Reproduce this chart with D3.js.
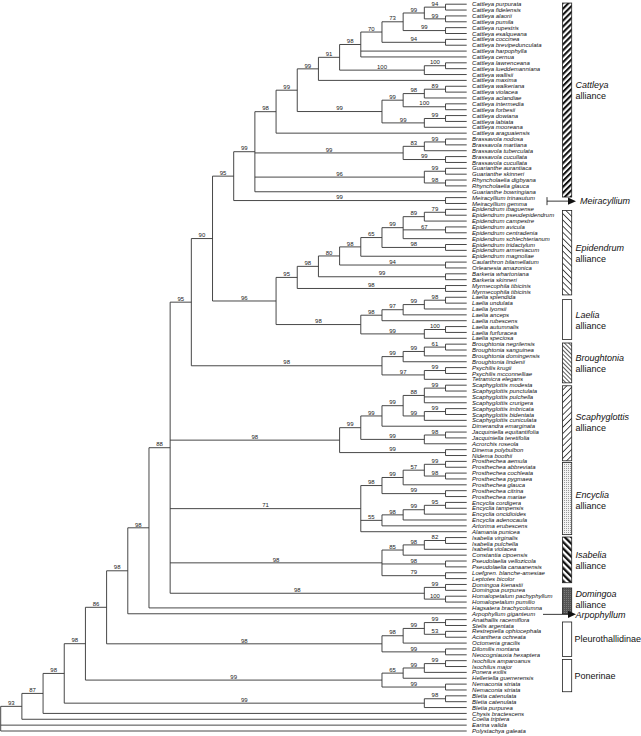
<!DOCTYPE html>
<html><head><meta charset="utf-8">
<script src="https://cdn.jsdelivr.net/npm/d3@7/dist/d3.min.js"></script>
<style>
html,body{margin:0;padding:0;background:#fff;}
svg{display:block;}
text{font-family:"Liberation Sans",Arial,Helvetica,sans-serif;}
</style></head>
<body>
<svg id="chart" width="641" height="736"></svg>
<script>
// ---------------- DATA ----------------
const taxa = [
"Cattleya purpurata","Cattleya fidelensis","Cattleya alaorii","Cattleya pumila","Cattleya rupestris",
"Cattleya esalqueana","Cattleya coccinea","Cattleya brevipedunculata","Cattleya harpophylla","Cattleya cernua",
"Cattleya lawrenceana","Cattleya lueddemanniana","Cattleya wallisii","Cattleya maxima","Cattleya walkeriana",
"Cattleya violacea","Cattleya aclandiae","Cattleya intermedia","Cattleya forbesii","Cattleya dowiana",
"Cattleya labiata","Cattleya mooreana","Cattleya araguaiensis","Brassavola nodosa","Brassavola martiana",
"Brassavola tuberculata","Brassavola cucullata","Brassavola cucullata","Guarianthe aurantiaca","Guarianthe skinneri",
"Rhyncholaelia digbyana","Rhyncholaelia glauca","Guarianthe bowringiana","Meiracyllium trinasutum","Meiracyllium gemma",
"Epidendrum ibaguense","Epidendrum pseudepidendrum","Epidendrum campestre","Epidendrum avicula","Epidendrum centradenia",
"Epidendrum schlechterianum","Epidendrum tridactylum","Epidendrum armeniacum","Epidendrum magnoliae","Caularthron bilamellatum",
"Orleanesia amazonica","Barkeria whartoniana","Barkeria skinneri","Myrmecophila tibicinis","Myrmecophila tibicinis",
"Laelia splendida","Laelia undulata","Laelia lyonsii","Laelia anceps","Laelia rubescens",
"Laelia autumnalis","Laelia furfuracea","Laelia speciosa","Broughtonia negrilensis","Broughtonia sanguinea",
"Broughtonia domingensis","Broughtonia lindenii","Psychilis krugii","Psychilis mcconnelliae","Tetramicra elegans",
"Scaphyglottis modesta","Scaphyglottis punctulata","Scaphyglottis pulchella","Scaphyglottis crurigera","Scaphyglottis imbricata",
"Scaphyglottis bidentata","Scaphyglottis cuniculata","Dimerandra emarginata","Jacquiniella equitantifolia","Jacquiniella teretifolia",
"Acrorchis roseola","Dinema polybulbon","Nidema boothii","Prosthechea aemula","Prosthechea abbreviata",
"Prosthechea cochleata","Prosthechea pygmaea","Prosthechea glauca","Prosthechea citrina","Prosthechea mariae",
"Encyclia cordigera","Encyclia tampensis","Encyclia oncidioides","Encyclia adenocaula","Artorima erubescens",
"Alamania punicea","Isabelia virginalis","Isabelia pulchella","Isabelia violacea","Constantia cipoensis",
"Pseudolaelia vellozicola","Pseudolaelia canaanensis","Loefgren. blanche-amesiae","Leptotes bicolor","Domingoa kienastii",
"Domingoa purpurea","Homalopetalum pachyphyllum","Homalopetalum pumilio","Hagsatera brachycolumna","Arpophyllum giganteum",
"Anathallis racemiflora","Stelis argentata","Restrepiella ophiocephala","Acianthera ochreata","Octomeria gracilis",
"Dilomilis montana","Neocogniauxia hexaptera","Isochilus amparoanus","Isochilus major","Ponera exilis",
"Helleriella guerrerensis","Nemaconia striata","Nemaconia striata","Bletia catenulata","Bletia catenulata",
"Bletia purpurea","Chysis bractescens","Coelia triptera","Earina valida","Polystachya galeata"];

// topology (leaf = index into taxa), internal labels = bootstrap support
const cattleyaCore = "(((((((0,1)94,(2,3)99)99,(4,5)99)73,(6,7)94)70,8,9)98,((10,11)100,12)100)91,13)99";
const cattleyaWalk = "((((14,15)89,16)98,(17,18)100)99,((19,20)99,21)99)99";
const brassavolaClade = "(((23,24)99,25)83,(26,27)99)99";
const guariantheClade = "((28,29)99,(30,31)98)96";
const epidendrumClade = "((((((((35,36)79,37)89,(38,39)67,40)99,(41,42)98)65,43)98,(44,45)94)80,(46,47)99)98,(48,49)98)95";
const laeliaClade = "(((((50,51)98,52)99,53)97,54)98,((55,56)100,57)99)98";
const broughtoniaClade = "((((58,59)61,60)99,61)99,((62,63)99,64)97)98";
const scaphClade = "((((((65,66)99,67,68)88,((69,70)99,71)99)99,72)99,((73,74)98,75)99)99,(76,77)99)98";
const encycliaClade = "(((((78,79)99,(80,81)98)57,82)99,(83,84)99)98,((((85,86)95,87)99,88)98,89)55,90)71";
const isabeliaClade = "((((91,92)82,93)98,94)85,(95,96)98,(97,98)79)98";
const domingoaClade = "((99,100)99,(101,102)100)98";
const pleuroClade = "((((105,106)99,(107,108)53)99,109)98,(110,111)99)98";
const ponerClade = "((((112,113)99,114)99,115)65,(116,117)99)99";
const bletiaClade = "((118,119)98,120)99";

const newick =
 "(((((((((((((((" + cattleyaCore + "," + cattleyaWalk + ")99,22)98," + brassavolaClade + "," + guariantheClade + ",32)99,(33,34)99)95," +
 "(" + epidendrumClade + "," + laeliaClade + ")96)90," + broughtoniaClade + ")95," +
 scaphClade + "," + encycliaClade + "," + isabeliaClade + "," + domingoaClade + ")88,103)98,104)98," +
 pleuroClade + ")86," + ponerClade + ")98," + bletiaClade + ")98,121)87,122)93,123,124);";

// legend groups (extent in leaf-index units)
const groupNames   = ["Cattleya","Epidendrum","Laelia","Broughtonia","Scaphyglottis","Encyclia","Isabelia","Domingoa","Pleurothallidinae","Ponerinae"];
const groupSecond  = ["alliance","alliance","alliance","alliance","alliance","alliance","alliance","alliance","",""];
const groupStart   = [-0.2, 35.2, 50.4, 57.8, 65.1, 78.2, 90.9, 99.6, 105.4, 111.8];
const groupEnd     = [32.9, 49.6, 57.2, 64.6, 77.9, 90.5, 98.7, 104.0, 111.3, 117.3];
const groupFill    = ["thickSlash","thinBack","none","denseBack","thinSlash","dots","thickBack","darkDots","none","none"];
const groupLabelShift = [-10.5, 0, 0, 0, -1.5, 1.5, 0, -1.5, 0, 0];
const arrowNames   = ["Meiracyllium","Arpophyllum"];
const arrowIndex   = [33.6, 104.1];

// ---------------- PARSE ----------------
function parseNewick(s){
  let i = 0;
  function node(){
    const n = {};
    if (s[i] === "("){
      i++; n.children = [];
      while (true){
        n.children.push(node());
        if (s[i] === ","){ i++; continue; }
        break;
      }
      i++; // ')'
    }
    let lab = "";
    while (i < s.length && !",();".includes(s[i])) lab += s[i++];
    if (n.children) n.support = lab; else n.leaf = +lab;
    return n;
  }
  return node();
}

const root = d3.hierarchy(parseNewick(newick));
const W = 641, H = 736;
const xScale = d3.scaleLinear().domain([0, root.height]).range([466.7, 0.7]);
const yScale = d3.scaleLinear().domain([0, taxa.length - 1]).range([4.2, 731]);

root.eachAfter(d => {
  d.px = xScale(d.height);
  if (d.children) d.py = (d.children[0].py + d.children[d.children.length - 1].py) / 2;
  else d.py = yScale(d.data.leaf);
});

const svg = d3.select("#chart");
svg.append("rect").attr("width", W).attr("height", H).attr("fill", "#fff");

// patterns
const defs = svg.append("defs");
function stripe(id, size, width, angle, color){
  const p = defs.append("pattern").attr("id", id).attr("patternUnits","userSpaceOnUse")
    .attr("width", size).attr("height", size).attr("patternTransform", `rotate(${angle})`);
  p.append("rect").attr("width", size).attr("height", size).attr("fill", "#fff");
  p.append("rect").attr("x", 0).attr("y", 0).attr("width", width).attr("height", size).attr("fill", color);
}
stripe("thickSlash", 4.2, 2.1, 45, "#111");
stripe("thickBack", 4.6, 2.3, -45, "#111");
stripe("thinSlash", 4.4, 0.8, 45, "#222");
stripe("thinBack", 4.4, 0.8, -45, "#222");
stripe("denseBack", 3.0, 0.75, -45, "#222");
(function(){
  const p = defs.append("pattern").attr("id","dots").attr("patternUnits","userSpaceOnUse").attr("width",2).attr("height",2);
  p.append("rect").attr("width",2).attr("height",2).attr("fill","#f2f2f2");
  p.append("rect").attr("width",1).attr("height",1).attr("fill","#9a9a9a");
  const q = defs.append("pattern").attr("id","darkDots").attr("patternUnits","userSpaceOnUse").attr("width",2).attr("height",2);
  q.append("rect").attr("width",2).attr("height",2).attr("fill","#555");
  q.append("rect").attr("width",1).attr("height",1).attr("fill","#7a7a7a");
})();

// branches
const lineColor = "#333";
const g = svg.append("g");
const nodes = root.descendants();
g.selectAll("line.h").data(nodes.filter(d => d.parent)).join("line")
  .attr("x1", d => d.parent.px).attr("x2", d => d.px)
  .attr("y1", d => d.py).attr("y2", d => d.py)
  .attr("stroke", lineColor).attr("stroke-width", 0.9);
g.selectAll("line.v").data(nodes.filter(d => d.children)).join("line")
  .attr("x1", d => d.px).attr("x2", d => d.px)
  .attr("y1", d => d.children[0].py).attr("y2", d => d.children[d.children.length - 1].py)
  .attr("stroke", lineColor).attr("stroke-width", 0.9);

// bootstrap labels
g.selectAll("text.bs").data(nodes.filter(d => d.parent && d.children && d.data.support)).join("text")
  .attr("x", d => (d.parent.px + d.px) / 2).attr("y", d => d.py - 1.3)
  .attr("text-anchor", "middle").attr("font-size", 6).attr("fill", "#222")
  .text(d => d.data.support);

// leaf labels
g.selectAll("text.leaf").data(root.leaves()).join("text")
  .attr("x", d => d.px + 5.4).attr("y", d => d.py + 2.1)
  .attr("font-size", 6).attr("font-style", "italic").attr("fill", "#111")
  .text(d => taxa[d.data.leaf]);

// legend bars
const barX = 562.5, barW = 9.2, labX = 575.5;
const lg = svg.append("g");
groupNames.forEach((name, i) => {
  const y0 = yScale(groupStart[i]), y1 = yScale(groupEnd[i]);
  lg.append("rect").attr("x", barX).attr("y", y0).attr("width", barW).attr("height", y1 - y0)
    .attr("fill", groupFill[i] === "none" ? "#fff" : `url(#${groupFill[i]})`)
    .attr("stroke", "#222").attr("stroke-width", 0.8);
  const cy = (y0 + y1) / 2 + groupLabelShift[i];
  if (groupSecond[i]){
    lg.append("text").attr("x", labX).attr("y", cy - 2).attr("font-size", 9).attr("font-style","italic").attr("fill","#111").text(name);
    lg.append("text").attr("x", labX).attr("y", cy + 9).attr("font-size", 9).attr("fill","#111").text(groupSecond[i]);
  } else {
    lg.append("text").attr("x", labX - 1).attr("y", cy + 3.2).attr("font-size", 9).attr("fill","#111").text(name);
  }
});

// arrow markers
arrowNames.forEach((name, i) => {
  const y = yScale(arrowIndex[i]);
  const xs = i === 0 ? 547 : 543;
  if (i === 0) lg.append("line").attr("x1", xs).attr("x2", xs).attr("y1", y - 4).attr("y2", y + 4).attr("stroke","#222").attr("stroke-width",0.9);
  lg.append("line").attr("x1", xs).attr("x2", 569).attr("y1", y).attr("y2", y).attr("stroke","#222").attr("stroke-width",0.9);
  lg.append("path").attr("d", `M568,${y-3.6}L576,${y}L568,${y+3.6}Z`).attr("fill","#111");
  lg.append("text").attr("x", i === 0 ? 580 : 575.5).attr("y", y + 3.2).attr("font-size", 9).attr("font-style","italic").attr("fill","#111").text(name);
});
</script>
</body></html>
